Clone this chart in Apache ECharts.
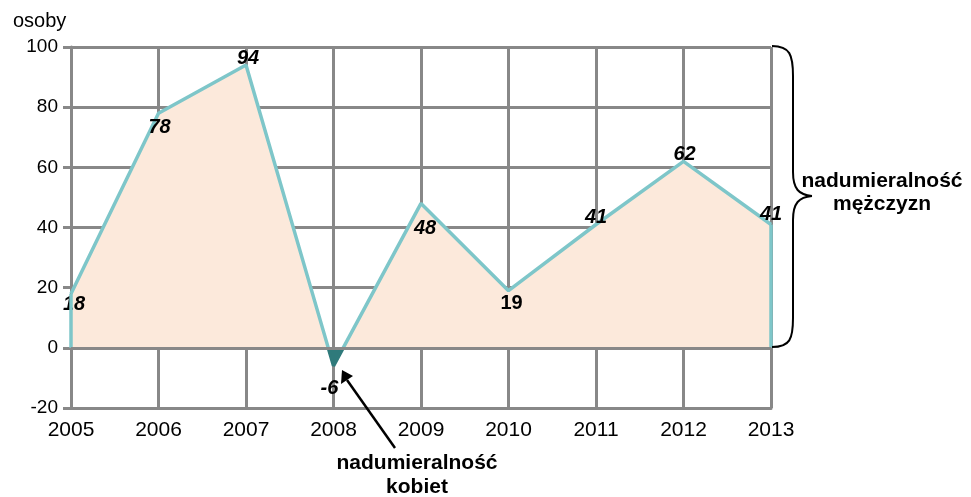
<!DOCTYPE html>
<html>
<head>
<meta charset="utf-8">
<script src="https://cdn.jsdelivr.net/npm/echarts@6/dist/echarts.min.js"></script>
<style>
  html, body { margin: 0; padding: 0; background: #fff; }
  #chart { width: 971px; height: 497px; }
</style>
</head>
<body>
<div id="chart"></div>
<script>
// values
const years = ["2005", "2006", "2007", "2008", "2009", "2010", "2011", "2012", "2013"];
const values = [18, 78, 94, -6, 48, 19, 41, 62, 41];
const yTicks = [-20, 0, 20, 40, 60, 80, 100];

// label nudges (px, relative to the point)
const labelOffsets = [[3, 11], [1, 14], [2, -7], [-4, 23], [4, 25], [3, 13], [0, -7], [1, -7], [0, -10]];
const uprightLabels = [5];

const FONT = "'Liberation Sans', Arial, sans-serif";
const GRID_GRAY = "#888888";
const LINE_TEAL = "#7ec6c9";
const FILL_PEACH = "#fce9db";
const DARK_TEAL = "#2f7a7b";

const chartDom = document.getElementById("chart");
const myChart = echarts.init(chartDom, null, { renderer: "canvas" });

const seriesData = values.map((v, i) => ({
  value: v,
  label: {
    offset: labelOffsets[i],
    fontStyle: uprightLabels.includes(i) ? "normal" : "italic"
  }
}));

const last = values.length - 1;

// curly brace on the right, built from bezier pieces
const braceStyle = { fill: "none", stroke: "#000", lineWidth: 2 };
const bez = (x1, y1, cpx1, cpy1, cpx2, cpy2, x2, y2) => ({
  type: "bezierCurve",
  shape: { x1, y1, cpx1, cpy1, cpx2, cpy2, x2, y2 },
  style: braceStyle,
  z: 10
});
const seg = (x1, y1, x2, y2) => ({
  type: "line",
  shape: { x1, y1, x2, y2 },
  style: braceStyle,
  z: 10
});

const option = {
  animation: false,
  backgroundColor: "#fff",
  title: {
    text: "osoby",
    left: 8,
    top: 6,
    textStyle: { fontFamily: FONT, fontSize: 20, fontWeight: "normal", color: "#000" }
  },
  grid: { left: 71, right: 200, top: 47, bottom: 89, containLabel: false },
  xAxis: {
    type: "category",
    data: years,
    boundaryGap: false,
    axisLine: { onZero: false, lineStyle: { color: GRID_GRAY, width: 3 } },
    axisTick: { show: false },
    axisLabel: { color: "#000", fontFamily: FONT, fontSize: 21, margin: 12 },
    splitLine: { show: true, lineStyle: { color: GRID_GRAY, width: 3 } }
  },
  yAxis: {
    type: "value",
    min: yTicks[0],
    max: yTicks[yTicks.length - 1],
    interval: 20,
    axisLine: { show: true, lineStyle: { color: GRID_GRAY, width: 3 } },
    axisTick: { show: true, length: 8, lineStyle: { color: GRID_GRAY, width: 3 } },
    axisLabel: { color: "#000", fontFamily: FONT, fontSize: 19, margin: 13 },
    splitLine: { show: true, lineStyle: { color: GRID_GRAY, width: 3 } }
  },
  series: [
    {
      type: "line",
      data: seriesData,
      symbol: "circle",
      symbolSize: 1,
      itemStyle: { color: "rgba(0,0,0,0)" },
      lineStyle: { color: LINE_TEAL, width: 3.5 },
      areaStyle: { color: FILL_PEACH, opacity: 1, origin: 0 },
      label: {
        show: true,
        position: "inside",
        color: "#000",
        fontFamily: FONT,
        fontSize: 20,
        fontWeight: "bold",
        fontStyle: "italic"
      },
      markLine: {
        silent: true,
        symbol: "none",
        label: { show: false },
        lineStyle: { color: LINE_TEAL, width: 3.5, type: "solid" },
        data: [
          [{ coord: [0, 0] }, { coord: [0, values[0]] }],
          [{ coord: [last, 0] }, { coord: [last, values[last]] }]
        ]
      },
      z: 3
    },
    {
      // zero baseline drawn over the fill
      type: "line",
      data: [],
      markLine: {
        silent: true,
        symbol: "none",
        label: { show: false },
        lineStyle: { color: GRID_GRAY, width: 3, type: "solid" },
        data: [{ yAxis: 0 }]
      },
      z: 2
    }
  ],
  graphic: [
    bez(772, 46, 790, 46, 793, 55, 793, 76),
    seg(793, 76, 793, 172),
    bez(793, 172, 793, 189, 799, 195, 812, 196),
    bez(812, 196, 799, 197, 793, 203, 793, 220),
    seg(793, 220, 793, 318),
    bez(793, 318, 793, 339, 790, 347, 772, 347),
    {
      type: "text",
      x: 882,
      y: 170,
      style: {
        text: "nadumieralność\nmężczyzn",
        align: "center",
        font: "bold 21px " + FONT,
        lineHeight: 23,
        fill: "#000"
      },
      z: 10
    },
    {
      type: "line",
      shape: { x1: 395, y1: 448, x2: 347, y2: 380 },
      style: { stroke: "#000", lineWidth: 2.5 },
      z: 10
    },
    {
      type: "polygon",
      shape: { points: [[342, 370], [341, 384], [353, 376]] },
      style: { fill: "#000" },
      z: 10
    },
    {
      type: "text",
      x: 417,
      y: 451,
      style: {
        text: "nadumieralność\nkobiet",
        align: "center",
        font: "bold 21px " + FONT,
        lineHeight: 24,
        fill: "#000"
      },
      z: 10
    }
  ]
};

myChart.setOption(option);

// split fill and line colour at the zero level
const zeroY = myChart.convertToPixel({ yAxisIndex: 0 }, 0);
const h = chartDom.clientHeight;
const off = zeroY / h;
const split = (above, below) =>
  new echarts.graphic.LinearGradient(0, 0, 0, h, [
    { offset: 0, color: above },
    { offset: off, color: above },
    { offset: off, color: below },
    { offset: 1, color: below }
  ], true);

myChart.setOption({
  series: [
    {
      lineStyle: { color: split(LINE_TEAL, DARK_TEAL) },
      areaStyle: { color: split(FILL_PEACH, DARK_TEAL) }
    }
  ]
});

window.addEventListener("resize", () => {
  myChart.resize();
});
</script>
</body>
</html>
